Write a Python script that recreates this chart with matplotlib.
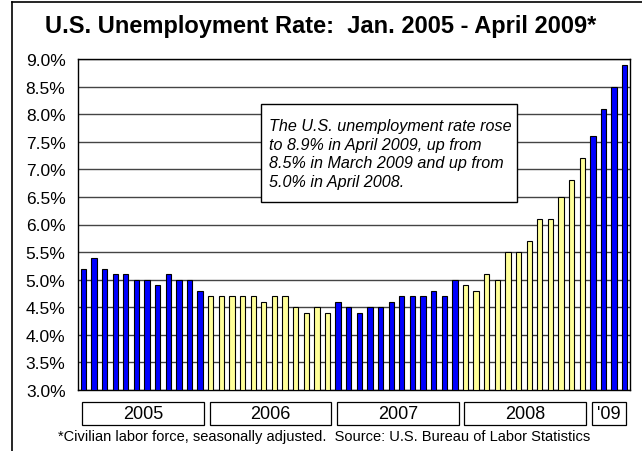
import matplotlib
matplotlib.use("Agg")
import matplotlib.pyplot as plt
from matplotlib.patches import Rectangle
from matplotlib.lines import Line2D
import matplotlib.transforms as mtransforms

plt.rcParams['font.family'] = ['Liberation Sans', 'DejaVu Sans']

years = ["2005", "2006", "2007", "2008", "'09"]
months_per_year = [12, 12, 12, 12, 4]
rate_2005 = [5.2, 5.4, 5.2, 5.1, 5.1, 5.0, 5.0, 4.9, 5.1, 5.0, 5.0, 4.8]
rate_2006 = [4.7, 4.7, 4.7, 4.7, 4.7, 4.6, 4.7, 4.7, 4.5, 4.4, 4.5, 4.4]
rate_2007 = [4.6, 4.5, 4.4, 4.5, 4.5, 4.6, 4.7, 4.7, 4.7, 4.8, 4.7, 5.0]
rate_2008 = [4.9, 4.8, 5.1, 5.0, 5.5, 5.5, 5.7, 6.1, 6.1, 6.5, 6.8, 7.2]
rate_2009 = [7.6, 8.1, 8.5, 8.9]
series = [rate_2005, rate_2006, rate_2007, rate_2008, rate_2009]
year_colors = ['#0000FF', '#FFFF99', '#0000FF', '#FFFF99', '#0000FF']
yticks = [3.0, 3.5, 4.0, 4.5, 5.0, 5.5, 6.0, 6.5, 7.0, 7.5, 8.0, 8.5, 9.0]

W, H = 642, 452
fig = plt.figure(figsize=(W / 100, H / 100), dpi=100)
ax = fig.add_axes([78 / W, 1 - 391 / H, (630 - 78) / W, (391 - 60) / H])

base = 3.0
x0 = 0
for vals, col in zip(series, year_colors):
    xs = list(range(x0, x0 + len(vals)))
    ax.bar(xs, [v - base for v in vals], bottom=base, width=0.5,
           color=col, edgecolor='black', linewidth=0.8, zorder=3)
    x0 += len(vals)
n = x0

ax.set_xlim(-0.5, n - 0.5)
ax.set_ylim(3.0, 9.0)
ax.set_yticks(yticks)
ax.set_yticklabels([f"{t:.1f}%" for t in yticks], fontsize=12.5)
ax.tick_params(axis='y', length=0, pad=9)
ax.set_xticks([])
for t in yticks:
    ax.axhline(t, color='#444444', linewidth=1.0, zorder=1)
for s in ax.spines.values():
    s.set_color('black')
    s.set_linewidth(1.0)

# year boxes under the axis
trans = mtransforms.blended_transform_factory(ax.transData, ax.transAxes)
start = 0
for lab, m in zip(years, months_per_year):
    left = start - 0.1
    right = min(start + m - 1 + 0.35, n - 0.85)
    r = Rectangle((left, -0.105), right - left, 0.07, transform=trans,
                  facecolor='white', edgecolor='black', linewidth=0.9,
                  clip_on=False)
    ax.add_patch(r)
    ax.text((left + right) / 2, -0.07, lab, transform=trans, ha='center',
            va='center', fontsize=13)
    start += m

# annotation box
fig.add_artist(Rectangle((261 / W, 1 - 203 / H), (517 - 261) / W, (203 - 105) / H,
                         transform=fig.transFigure, facecolor='white',
                         edgecolor='black', linewidth=1.0, zorder=5))
fig.text(269 / W, 1 - 119 / H,
         "The U.S. unemployment rate rose\nto 8.9% in April 2009, up from\n"
         "8.5% in March 2009 and up from\n5.0% in April 2008.",
         fontsize=11.6, style='italic', ha='left', va='top',
         linespacing=1.3, zorder=6)

fig.text(0.5, 1 - 26 / H, "U.S. Unemployment Rate:  Jan. 2005 - April 2009*",
         ha='center', va='center', fontsize=17, fontweight='bold')
fig.text(324 / W, 1 - 437 / H,
         "*Civilian labor force, seasonally adjusted.  Source: U.S. Bureau of Labor Statistics",
         ha='center', va='center', fontsize=10.5)

# outer frame
fig.add_artist(Line2D([12 / W, 12 / W], [0, 1 - 3 / H], transform=fig.transFigure,
                      color='black', linewidth=1.2))
fig.add_artist(Line2D([12 / W, 1], [1 - 3 / H, 1 - 3 / H], transform=fig.transFigure,
                      color='black', linewidth=1.2))

fig.savefig("out.png", dpi=100)
